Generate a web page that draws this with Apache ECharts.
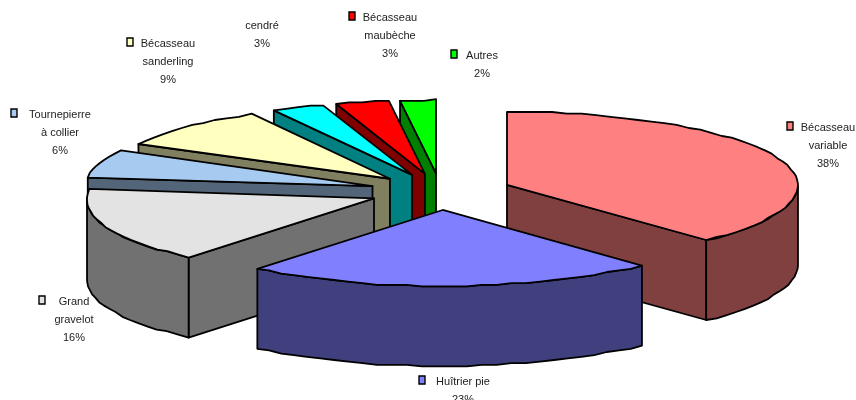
<!DOCTYPE html>
<html><head><meta charset="utf-8">
<style>html,body{margin:0;padding:0;background:#fff}#c{width:856px;height:400px}</style>
<script src="https://cdn.jsdelivr.net/npm/echarts@6/dist/echarts.min.js"></script>
</head><body><div id="c"></div>
<script>
const categories = ['Bécasseau variable','Huîtrier pie','Grand gravelot','Tournepierre à collier','Bécasseau sanderling','Bécasseau cendré','Bécasseau maubèche','Autres'];
const values = [38,23,16,6,9,3,3,2];
const topColors = ['#FF8080','#8080FF','#E3E3E3','#A6CAF0','#FFFFC0','#00FFFF','#FF0000','#00FF00'];
const sideColors = ['#804040','#40407F','#717171','#536578','#808060','#008080','#800000','#008000'];
const labelLines = [['Bécasseau','variable','38%'],['Huîtrier pie','23%'],['Grand','gravelot','16%'],['Tournepierre','à collier','6%'],['Bécasseau','sanderling','9%'],['cendré','3%'],['Bécasseau','maubèche','3%'],['Autres','2%']];
// centre x of text block, y of first line, key box x (null: no key)
const labelCentre = [828,463,74,60,168,262,390,482];
const labelTop = [128,382,302,115,44,26,18,56];
const keyX = [787,419,39,11,127,null,349,451];
const paintOrder = [7,6,5,4,3,2,0,1];
const cx=440.5, cy=191.7, explodeX=71.5, explodeY=18.3, depth=80;
const rxRight=291, rxLeft=287, ryBack=73.5, ryFront=76;
const TOTAL = values.reduce((a,b)=>a+b,0);
const rad = d=>d*Math.PI/180;
const step = 1.6;
function rimPt(ax,ay,deg){
  const t=rad(deg), s=Math.sin(t), c=Math.cos(t);
  const rx=s<0?rxLeft+5*Math.max(0,-c):rxRight, ry=c>0?ryBack:ryFront;
  return [ax+rx*s, Math.round((ay-ry*c)/step)*step];
}
function arcPts(ax,ay,a0,a1){
  const pts=[]; const n=Math.max(2,Math.ceil(Math.abs(a1-a0)/3));
  for(let i=0;i<=n;i++) pts.push(rimPt(ax,ay,a0+(a1-a0)*i/n));
  return pts;
}
const black={stroke:'#000',lineWidth:1.8,lineJoin:'round'};
function poly(points,fill,z2){return {type:'polygon',z2,shape:{points},style:Object.assign({fill},black)};}
function renderItem(params,api){
  const i=params.dataIndex;
  let before=0; for(let k=0;k<i;k++) before+=values[k];
  const a0=before/TOTAL*360, a1=(before+values[i])/TOTAL*360, mid=(a0+a1)/2;
  const ax=cx+explodeX*Math.sin(rad(mid)), ay=cy-explodeY*Math.cos(rad(mid));
  const base=paintOrder.indexOf(i)*10+10;
  const ch=[];
  const wall=(deg)=>{const p=rimPt(ax,ay,deg);return poly([[ax,ay],p,[p[0],p[1]+depth],[ax,ay+depth]],sideColors[i],base);};
  if(Math.sin(rad(a0))<-1e-6) ch.push(wall(a0));
  if(Math.sin(rad(a1))>1e-6) ch.push(wall(a1));
  const f0=Math.max(a0,90), f1=Math.min(a1,270);
  if(f1>f0){
    const up=arcPts(ax,ay,f0,f1);
    const dn=up.map(p=>[p[0],p[1]+depth]).reverse();
    ch.push(poly(up.concat(dn),sideColors[i],base+1));
  }
  ch.push(poly([[ax,ay]].concat(arcPts(ax,ay,a0,a1)),topColors[i],base+2));
  // label
  const lines=labelLines[i];
  lines.forEach((t,k)=>{
    ch.push({type:'text',z2:200,style:{text:t,x:labelCentre[i],y:labelTop[i]+k*18,
      align:'center',verticalAlign:'middle',fill:'#222',font:'11px "Liberation Sans"'}});
  });
  if(keyX[i]!==null){
    ch.push({type:'rect',z2:200,shape:{x:keyX[i],y:labelTop[i]-6,width:6,height:8},
      style:{fill:topColors[i],stroke:'#000',lineWidth:1.4}});
  }
  return {type:'group',children:ch};
}
const chart=echarts.init(document.getElementById('c'),null,{renderer:'canvas'});
chart.setOption({
  animation:false,
  backgroundColor:'#fff',
  series:[{type:'custom',coordinateSystem:'none',renderItem,silent:true,clip:false,
    data:categories.map((c,i)=>({name:c,value:values[i]}))}]
});
</script></body></html>
